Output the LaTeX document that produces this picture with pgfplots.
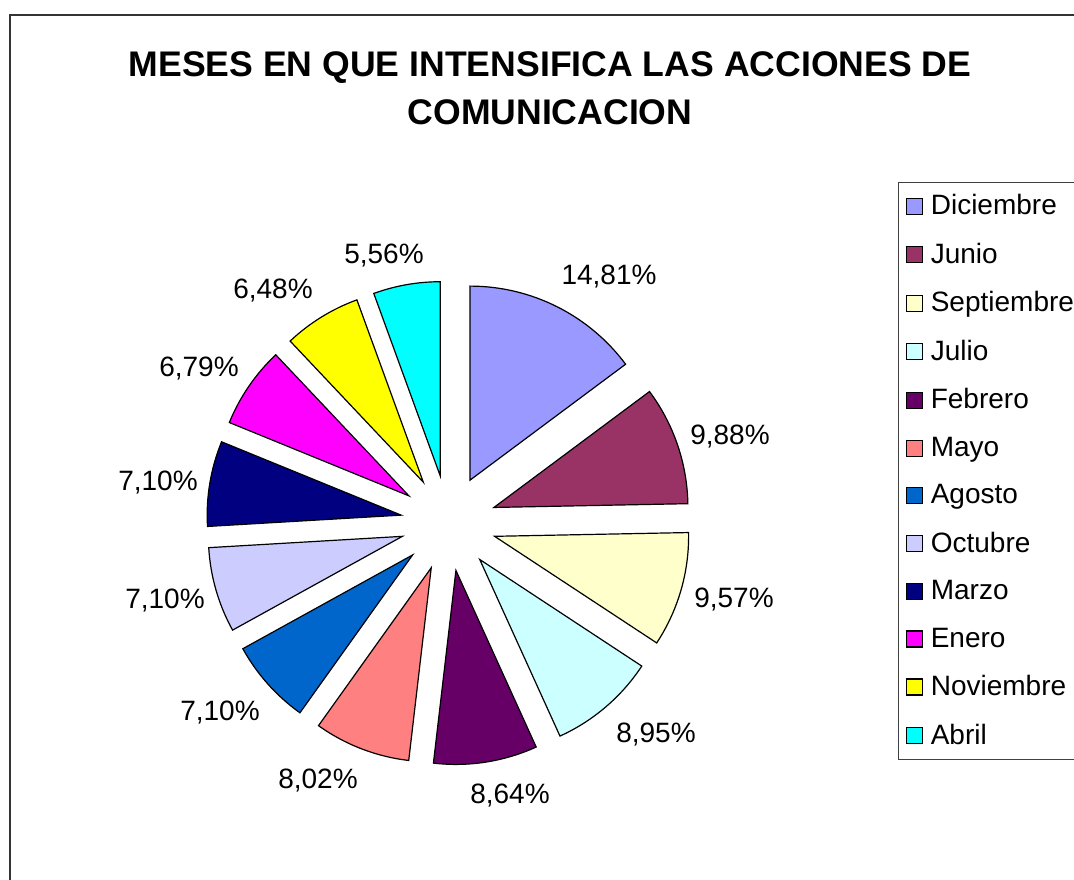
\documentclass[border=0pt]{standalone}
\usepackage{pgfplots}
\usepackage{pgfplotstable}
\pgfplotsset{compat=1.18}
\usepackage{fontspec}
\setmainfont{Liberation Sans}

\definecolor{cDic}{HTML}{9999FF}
\definecolor{cJun}{HTML}{993366}
\definecolor{cSep}{HTML}{FFFFCC}
\definecolor{cJul}{HTML}{CCFFFF}
\definecolor{cFeb}{HTML}{660066}
\definecolor{cMay}{HTML}{FF8080}
\definecolor{cAgo}{HTML}{0066CC}
\definecolor{cOct}{HTML}{CCCCFF}
\definecolor{cMar}{HTML}{000080}
\definecolor{cEne}{HTML}{FF00FF}
\definecolor{cNov}{HTML}{FFFF00}
\definecolor{cAbr}{HTML}{00FFFF}

\newcommand\labelfont{\fontsize{14}{16.8}\selectfont}
\newcommand\titlefont{\fontsize{17.8}{22}\selectfont\bfseries}

% valor = percentage; lx, ly = label position (picture pixels, y from top)
\pgfplotstableread{
mes valor col lx ly
Diciembre 14.81 cDic 609 277
Junio 9.88 cJun 730 437
Septiembre 9.57 cSep 734 600
Julio 8.95 cJul 656 735
Febrero 8.64 cFeb 510 796
Mayo 8.02 cMay 318 781
Agosto 7.10 cAgo 220 713
Octubre 7.10 cOct 165 601
Marzo 7.10 cMar 158 483
Enero 6.79 cEne 199 369
Noviembre 6.48 cNov 273 291
Abril 5.56 cAbr 384 256
}\datos

\pgfkeys{/pgf/number format/.cd, fixed, fixed zerofill, precision=2, use comma, assume math mode=true}

\begin{document}
\begin{tikzpicture}
\begin{axis}[
  x=0.5pt, y=0.5pt,
  xmin=0, xmax=1074, ymin=0, ymax=879,
  hide axis, clip=false,
  legend image code/.code={\draw[#1, draw=black, line width=0.6pt] (0pt,-4pt) rectangle (8pt,4pt);},
  legend cell align=left,
  legend style={at={(axis cs:898,697)}, anchor=north west, draw=black!75, line width=0.6pt,
    font=\labelfont, row sep=8.6pt, column sep=2pt, inner xsep=3.5pt, inner ysep=4pt},
]
% outer chart border
\draw[black!80, line width=0.9pt] (axis cs:10,-10) -- (axis cs:10,864) -- (axis cs:1100,864);
% title
\node[font=\titlefont] at (axis cs:550,811) {MESES EN QUE INTENSIFICA LAS ACCIONES DE};
\node[font=\titlefont] at (axis cs:550,767) {COMUNICACION};

\def\cum{0}
\pgfplotsforeachungrouped \i in {0,...,11}{%
  \pgfplotstablegetelem{\i}{valor}\of\datos \let\sliceval\pgfplotsretval
  \pgfplotstablegetelem{\i}{col}\of\datos \let\slicecol\pgfplotsretval
  \pgfplotstablegetelem{\i}{lx}\of\datos \let\lx\pgfplotsretval
  \pgfplotstablegetelem{\i}{ly}\of\datos \pgfmathsetmacro{\ly}{879-\pgfplotsretval}%
  \pgfmathsetmacro{\aS}{90-3.6*\cum}%
  \pgfmathsetmacro{\aE}{90-3.6*(\cum+\sliceval)}%
  \pgfmathsetmacro{\aM}{(\aS+\aE)/2}%
  \pgfmathsetmacro{\ox}{448.5+48*cos(\aM)}%
  \pgfmathsetmacro{\oy}{356+48*sin(\aM)}%
  \pgfmathsetmacro{\cum}{\cum+\sliceval}%
  \edef\temp{%
    \noexpand\filldraw[fill=\slicecol, draw=black, line width=0.6pt]
      (axis cs:\ox,\oy) -- ++(\aS:97pt) arc[start angle=\aS, end angle=\aE, radius=97pt] -- cycle;
    \noexpand\node[font=\noexpand\labelfont] at (axis cs:\lx,\ly) {\noexpand\pgfmathprintnumber{\sliceval}\noexpand\%};
  }%
  \temp
}

\addlegendimage{fill=cDic}\addlegendentry{Diciembre}
\addlegendimage{fill=cJun}\addlegendentry{Junio}
\addlegendimage{fill=cSep}\addlegendentry{Septiembre}
\addlegendimage{fill=cJul}\addlegendentry{Julio}
\addlegendimage{fill=cFeb}\addlegendentry{Febrero}
\addlegendimage{fill=cMay}\addlegendentry{Mayo}
\addlegendimage{fill=cAgo}\addlegendentry{Agosto}
\addlegendimage{fill=cOct}\addlegendentry{Octubre}
\addlegendimage{fill=cMar}\addlegendentry{Marzo}
\addlegendimage{fill=cEne}\addlegendentry{Enero}
\addlegendimage{fill=cNov}\addlegendentry{Noviembre}
\addlegendimage{fill=cAbr}\addlegendentry{Abril}
\end{axis}
\pgfresetboundingbox
\path (0,0) rectangle (537pt,439.5pt);
\end{tikzpicture}
\end{document}
